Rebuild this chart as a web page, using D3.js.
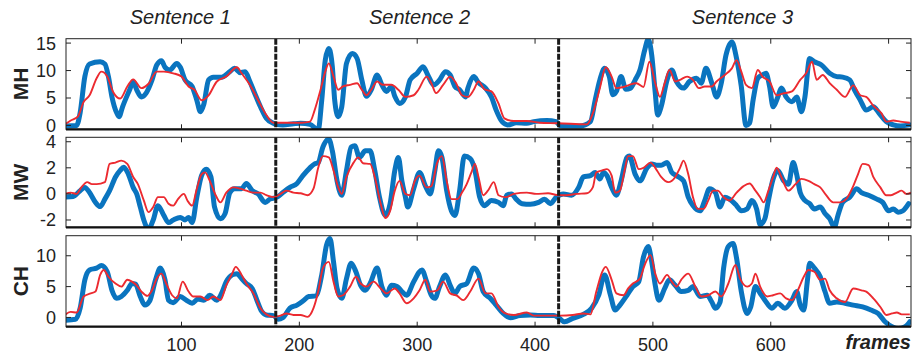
<!DOCTYPE html>
<html>
 <head>
  <meta charset="utf-8">
  <script src="https://d3js.org/d3.v7.min.js"></script>
  <style>
   body { margin: 0; background: #fff; }
   text { font-family: "Liberation Sans", Arial, sans-serif; fill: #222; }
  </style>
 </head>
 <body>
  <div id="chart"></div>
  <script type="text/javascript">
   // tick labels / categories
   var xTicks = [100, 200, 300, 400, 500, 600, 700];
   var sentenceNames = ["Sentence 1", "Sentence 2", "Sentence 3"];
   var sentenceCenters = [99, 302, 576];
   var boundaries = [180, 420];
   var panelNames = ["MH", "MW", "CH"];
   var mhTicks = [0, 5, 10, 15];
   var mwTicks = [-2, 0, 2, 4];
   var chTicks = [0, 5, 10];

   // MH: [frame, value]
   var mhBlue = [[1,-0.1],[11,0],[14,2.3],[18,8.9],[22,11.2],[31,11.6],[35,11.2],[38,8.9],[41,5.2],[45,2.3],[47,1.6],[50,3.4],[56,6.5],[59,8.0],[62,6.5],[66,5.2],[70,5.9],[75,8.3],[79,11],[83,11.8],[86,10.6],[90,10.1],[96,11.3],[99,10.6],[103,8.3],[109,7.1],[113,4.6],[116,2.5],[119,3.9],[123,8.3],[127,8.8],[134,8.8],[141,9.8],[145,10.4],[150,9.6],[154,9.8],[158,8.0],[162,5.9],[167,3.4],[172,1.3],[178,0.4],[180,0.2],[186,0.1],[195,0.3],[201,0.4],[209,0.2],[216,-0.8],[219,4.6],[222,11.9],[225,14],[228,10.7],[230,4.6],[233,1.6],[236,3.4],[240,11.3],[245,13.1],[249,12.2],[253,8.3],[257,5.3],[261,6.5],[266,9.2],[270,7.4],[274,6.2],[278,7.1],[281,5.3],[285,4.0],[290,5.2],[294,8.3],[300,9.5],[305,10.7],[309,9.2],[314,7.4],[319,8.3],[324,9.8],[328,9.2],[332,7.1],[336,6.5],[341,5.2],[343,6.8],[348,8.9],[352,7.8],[358,6.8],[363,5.2],[367,2.8],[372,0.7],[377,0.1],[384,0.5],[393,0.4],[399,0.7],[410,0.9],[418,0.7],[421,0],[427,-0.1],[438,-0.1],[447,0.7],[451,4.6],[455,8.3],[459,10.4],[463,8.9],[466,5.6],[469,6.2],[473,8.9],[477,6.6],[481,6.8],[485,8.3],[489,10.1],[493,13.7],[496,15.7],[499,12.8],[502,5.9],[504,1.9],[507,3.4],[512,8.3],[516,10.1],[520,8.0],[526,6.8],[531,8.0],[537,8.6],[541,7.7],[545,10.4],[550,7.7],[554,5.2],[558,7.7],[562,12.8],[567,15.2],[571,12.2],[575,7.1],[579,0.0],[582,0.4],[585,4.6],[589,8.6],[593,9.2],[596,9.5],[599,7.1],[602,3.4],[606,5.2],[609,6.8],[613,5.2],[618,4.3],[622,5.2],[626,2.5],[629,5.2],[633,12.2],[637,11.6],[643,11],[650,9.5],[656,8.9],[661,8.8],[667,8.3],[671,6.5],[676,4.6],[681,2.8],[687,3.4],[692,2.2],[698,0.7],[704,0.1],[710,-0.1],[718,0.1]];
   var mhRed = [[1,0.2],[6,0.9],[12,1.6],[17,4.3],[22,5.5],[28,8.6],[32,9.8],[37,8.9],[42,6.1],[48,4.9],[54,7.1],[59,8.4],[66,6.8],[72,7.6],[79,9.8],[85,9.8],[93,9.5],[100,8.9],[106,7.1],[111,6.5],[117,4.6],[123,5.5],[130,8.0],[138,8.9],[147,10.6],[151,9.5],[158,7.4],[165,4.6],[172,1.9],[178,0.5],[190,0.5],[202,0.5],[209,0.7],[213,2.8],[218,6.5],[222,9.8],[225,11.3],[229,8.9],[233,6.5],[237,7.1],[243,7.4],[249,7.7],[253,6.5],[257,5.5],[261,6.5],[266,8.0],[271,7.4],[278,7.4],[284,6.5],[290,5.2],[297,5.5],[301,6.5],[308,8.9],[312,7.7],[316,5.9],[322,7.4],[328,8.9],[333,7.7],[338,5.5],[343,5.2],[348,6.5],[352,8.0],[357,6.6],[363,6.2],[369,4.0],[374,1.3],[382,0.8],[393,0.8],[404,0.5],[418,0.4],[430,0.3],[444,0.2],[449,2.2],[455,6.8],[460,10.6],[465,8.9],[469,6.8],[475,7.0],[480,7.4],[486,7.7],[492,7.0],[497,11.6],[502,7.7],[506,5.2],[510,7.7],[514,10.1],[519,8.0],[523,8.3],[529,8.9],[534,8.3],[539,6.8],[544,7.1],[550,7.1],[554,8.0],[561,9.2],[567,10.4],[571,11.9],[575,9.8],[579,7.4],[584,6.8],[589,10.1],[593,8.9],[599,8.0],[605,5.5],[610,5.8],[618,6.2],[625,8.3],[630,9.5],[635,11.6],[639,8.3],[644,9.2],[650,7.7],[656,6.5],[663,5.2],[670,7.3],[676,5.5],[681,5.2],[687,3.6],[694,2.2],[698,0.7],[704,0.9],[710,0.7],[718,0.5]];

   // MW: [frame, value]
   var mwBlue = [[1,-0.25],[8,-0.2],[14,0.25],[18,0.5],[22,0.1],[27,-0.65],[31,-0.97],[35,-0.4],[39,0.25],[44,1.3],[48,1.8],[51,2.05],[55,1.5],[59,0.5],[62,0],[65,-1.0],[68,-2.0],[72,-2.7],[76,-2.0],[80,-0.9],[85,-1.65],[89,-2.2],[93,-2.0],[99,-1.8],[103,-2.0],[106,-1.8],[109,-2.2],[113,-0.25],[117,1.4],[121,1.9],[125,1.3],[128,-1.0],[133,-1.9],[137,-1.5],[141,0.1],[145,0.4],[151,0.4],[155,0.8],[160,0.25],[165,0],[171,-0.65],[175,-0.4],[181,-0.25],[186,0.1],[192,0.5],[198,0.8],[203,1.4],[209,2.0],[213,2.3],[216,2.4],[220,3.6],[225,4.2],[228,3.3],[232,1.0],[236,-0.1],[240,1.8],[244,3.6],[247,3.7],[251,2.8],[256,3.3],[260,3.3],[264,1.8],[268,-0.25],[273,-1.65],[277,-0.75],[281,1.8],[284,2.8],[287,1.0],[290,-0.25],[292,-1.0],[297,0.4],[302,1.65],[307,0.6],[311,0],[315,1.8],[318,3.3],[321,2.8],[325,0.25],[329,-1.3],[332,-1.65],[336,0.25],[340,2.9],[345,2.7],[349,1.8],[353,-0.25],[357,-0.9],[363,-0.5],[369,-0.65],[373,-0.9],[376,-0.1],[380,0],[384,-0.4],[389,-0.75],[396,-0.8],[403,-0.65],[408,-0.4],[413,-0.75],[418,-0.25],[424,0],[431,-0.1],[437,0.5],[441,1.3],[447,1.4],[451,1.65],[455,1.15],[458,1.65],[461,1.4],[465,0.5],[469,-0.1],[473,1.0],[478,2.8],[480,2.9],[485,1.5],[489,1.0],[495,2.0],[499,2.3],[503,2.2],[507,2.2],[512,2.4],[516,1.65],[520,1.4],[526,1.0],[530,-0.25],[534,-0.9],[540,-1.3],[544,-0.5],[548,0.4],[553,0.1],[557,-1.0],[561,-0.25],[565,-0.4],[571,-0.9],[575,-1.3],[580,-1.15],[584,-0.5],[588,-1.15],[591,-2.35],[595,-1.9],[598,-0.5],[602,1.15],[606,1.8],[611,1.0],[615,0.75],[619,2.4],[622,1.5],[625,0.1],[629,-0.5],[633,-0.75],[637,-1.15],[642,-1.0],[646,-1.5],[650,-1.9],[654,-2.55],[657,-1.65],[661,-0.65],[667,-0.25],[673,0.4],[677,0.1],[683,-0.1],[690,-0.4],[695,-0.65],[700,-1.3],[704,-1.15],[708,-1.4],[712,-1.3],[717,-0.75]];
   var mwRed = [[1,0],[6,0.1],[11,0],[15,0.5],[20,0.9],[24,0.75],[28,0.75],[35,0.9],[39,2.3],[44,2.4],[49,2.55],[54,2.3],[59,1.3],[63,0.75],[68,-0.5],[72,-1.4],[76,-1.0],[80,-0.25],[85,-0.25],[89,-0.75],[93,-0.9],[97,-0.4],[102,0],[105,-0.5],[109,-0.9],[113,0.4],[117,1.5],[120,1.65],[124,1.0],[129,-0.1],[133,-0.65],[138,0.1],[144,0.5],[150,0.4],[155,0.25],[161,0.1],[167,0.1],[172,-0.1],[178,-0.25],[184,0],[189,0.25],[195,0.1],[201,0.05],[207,-0.1],[212,0.4],[216,2.0],[220,2.9],[225,2.8],[229,1.8],[233,0.5],[236,0],[240,1.3],[246,2.4],[250,2.8],[254,2.35],[260,2.3],[264,1.3],[269,-0.75],[273,-1.85],[277,-1.3],[281,0.25],[285,1.0],[290,0],[294,-0.1],[298,1.0],[302,1.4],[308,0.5],[312,0.6],[317,2.4],[321,2.9],[325,1.0],[329,-0.4],[334,-0.4],[338,0.1],[342,0.75],[346,1.65],[349,2.3],[352,1.3],[356,-0.1],[360,0.25],[365,0.9],[369,-0.1],[375,-0.25],[382,0],[393,0.1],[401,0],[411,0.05],[420,-0.1],[427,-0.1],[435,0],[444,0.05],[449,0.5],[452,1.65],[457,1.8],[461,1.9],[465,1.4],[468,0.1],[472,0.25],[476,1.8],[479,2.9],[483,2.9],[488,1.9],[492,2.0],[498,2.4],[502,2.0],[507,1.3],[513,0.9],[519,1.3],[523,2.0],[526,2.55],[530,1.5],[534,-0.25],[538,-1.15],[543,-1.15],[547,-0.5],[551,0.25],[555,0.25],[560,-0.25],[565,-0.5],[571,0.1],[577,0.6],[582,0.8],[587,0.25],[591,-0.25],[594,-0.65],[598,0.25],[602,1.3],[605,2.0],[609,1.3],[615,0.25],[621,0.75],[626,1.15],[632,1.0],[637,0.75],[642,0.5],[647,-0.1],[653,-0.65],[659,-0.65],[664,-0.4],[670,0.6],[674,1.5],[678,2.3],[683,2.2],[687,1.3],[693,0.5],[698,-0.1],[702,-0.1],[707,0.1],[711,0.25],[715,0],[719,0.1]];

   // CH: [frame, value]
   var chBlue = [[1,-0.45],[10,-0.3],[14,1.5],[18,6.1],[22,7.7],[28,8.0],[32,8.4],[37,7.4],[41,4.4],[45,3.1],[49,3.4],[54,4.4],[58,5.5],[61,5.4],[65,3.4],[69,2.0],[73,2.65],[78,6.1],[82,8.0],[86,6.1],[89,2.8],[93,2.4],[99,3.4],[104,2.8],[109,2.3],[114,3.0],[119,2.8],[124,3.6],[130,2.8],[134,3.9],[138,5.8],[143,6.9],[147,7.1],[151,6.3],[155,5.5],[160,4.7],[164,2.8],[168,1.0],[172,0.4],[178,0.3],[182,-0.3],[186,-0.05],[192,1.5],[198,2.0],[203,2.65],[208,3.4],[214,3.5],[219,6.9],[223,11.7],[226,12.8],[229,9.0],[232,4.7],[236,3.1],[240,6.3],[244,8.8],[248,7.4],[252,5.2],[256,4.4],[260,5.5],[266,8.0],[270,5.0],[274,3.6],[278,5.2],[283,5.0],[287,4.2],[291,3.6],[297,5.8],[304,7.7],[308,5.8],[312,3.6],[315,3.1],[319,5.0],[324,6.9],[328,5.2],[332,3.9],[336,5.0],[342,5.5],[348,8.0],[352,7.1],[356,4.2],[362,3.1],[367,2.0],[373,0.65],[379,-0.05],[387,0.3],[396,0.4],[404,0.3],[416,0.3],[420,-0.05],[425,-0.7],[432,-0.15],[441,0.5],[448,1.5],[454,3.6],[459,6.9],[464,3.6],[468,1.2],[472,2.0],[478,3.6],[483,5.0],[488,5.8],[492,9.8],[496,11.5],[499,9.0],[502,5.2],[505,2.8],[510,4.7],[514,6.1],[519,5.2],[524,4.2],[530,4.4],[534,5.0],[540,3.4],[546,3.6],[550,2.5],[553,1.5],[557,2.5],[560,8.0],[564,11.5],[568,12.0],[571,9.6],[575,4.2],[580,0.65],[583,1.7],[587,5.0],[591,3.9],[595,2.8],[601,1.5],[606,2.3],[612,1.5],[618,2.8],[622,4.2],[625,2.0],[628,1.2],[631,5.8],[633,8.8],[637,8.0],[642,6.6],[646,4.2],[650,2.3],[656,2.5],[663,2.3],[670,2.0],[678,1.7],[685,1.2],[691,0.65],[697,-0.7],[703,-1.5],[708,-1.8],[714,-1.5],[718,-0.7]];
   var chRed = [[1,0.4],[6,0.9],[11,0.8],[17,3.4],[23,3.9],[27,4.2],[31,6.9],[34,7.7],[38,6.6],[44,5.5],[49,5.0],[54,6.1],[58,5.8],[62,5.2],[66,4.2],[71,3.5],[75,4.4],[79,6.3],[83,7.1],[87,5.5],[92,3.6],[96,3.1],[101,5.8],[106,4.2],[110,3.4],[116,3.4],[122,2.8],[127,3.4],[133,2.8],[138,5.2],[143,7.1],[146,8.2],[151,6.9],[155,5.5],[161,3.9],[167,1.5],[172,0.5],[178,0.1],[184,0.3],[189,0.65],[195,0.4],[201,0.4],[207,0.1],[212,1.5],[216,4.2],[220,8.0],[225,9.0],[229,5.8],[233,3.4],[237,3.6],[243,5.0],[248,6.6],[252,5.5],[257,5.0],[263,5.8],[269,4.7],[274,3.9],[281,4.7],[285,3.9],[291,2.3],[297,3.1],[302,4.4],[307,6.1],[311,4.2],[317,4.4],[322,5.8],[328,3.9],[334,3.5],[339,2.8],[345,4.2],[352,6.3],[358,3.9],[363,3.9],[369,1.7],[375,0.65],[382,0.4],[393,0.8],[399,0.3],[410,0.3],[421,0.3],[432,0.4],[441,0.65],[447,0.5],[452,4.2],[457,7.4],[460,8.2],[465,6.1],[469,3.9],[475,3.6],[479,4.7],[483,5.5],[489,6.3],[493,8.5],[498,10.1],[502,7.1],[506,5.5],[512,6.9],[516,5.8],[520,5.0],[524,6.1],[530,7.1],[536,5.0],[541,3.4],[547,3.6],[553,4.2],[558,3.4],[564,5.5],[570,8.5],[574,6.3],[580,5.0],[584,5.5],[587,7.1],[591,5.0],[597,3.4],[602,3.6],[608,3.9],[613,3.1],[618,2.8],[623,4.4],[628,6.6],[632,7.7],[637,7.4],[642,6.1],[646,6.3],[650,4.4],[656,3.1],[663,2.5],[670,4.7],[677,4.4],[681,4.2],[687,3.1],[693,1.7],[698,0.4],[703,0.65],[707,0.8],[711,0.5],[718,0.5]];

   var W = 912, H = 356;
   var blue = "#0a74bf", red = "#ec2a30";

   var svg = d3.select("#chart").append("svg")
      .attr("width", W).attr("height", H);

   var x = d3.scaleLinear().domain([2, 719]).range([66, 911]);

   var panels = [
     {name: panelNames[0], top: 38.7, bottom: 129.3, domain: [-0.7, 15.8], ticks: mhTicks, blue: mhBlue, red: mhRed},
     {name: panelNames[1], top: 137.3, bottom: 227.3, domain: [-2.56, 4.34], ticks: mwTicks, blue: mwBlue, red: mwRed},
     {name: panelNames[2], top: 235.7, bottom: 326.7, domain: [-1.5, 13.25], ticks: chTicks, blue: chBlue, red: chRed}
   ];

   var x0 = x.range()[0], x1 = x.range()[1];

   panels.forEach(function (p, i) {
     var y = d3.scaleLinear().domain(p.domain).range([p.bottom, p.top]);
     var g = svg.append("g");

     g.append("clipPath").attr("id", "clip" + i)
       .append("rect").attr("x", x0).attr("y", p.top)
       .attr("width", x1 - x0).attr("height", p.bottom - p.top);

     var line = d3.line()
       .x(function (d) { return x(d[0]); })
       .y(function (d) { return y(d[1]); })
       .curve(d3.curveMonotoneX);

     var plot = g.append("g").attr("clip-path", "url(#clip" + i + ")");
     plot.append("path").datum(p.blue)
       .attr("d", line).attr("fill", "none")
       .attr("stroke", blue).attr("stroke-width", 5)
       .attr("stroke-linejoin", "round").attr("stroke-linecap", "round");
     plot.append("path").datum(p.red)
       .attr("d", line).attr("fill", "none")
       .attr("stroke", red).attr("stroke-width", 1.9)
       .attr("stroke-linejoin", "round");

     // sentence boundaries
     g.selectAll("line.sep").data(boundaries).enter().append("line")
       .attr("x1", function (d) { return x(d); }).attr("x2", function (d) { return x(d); })
       .attr("y1", p.top).attr("y2", p.bottom)
       .attr("stroke", "#1a1a1a").attr("stroke-width", 3)
       .attr("stroke-dasharray", "6,1.5");

     // frame
     g.append("rect").attr("x", x0).attr("y", p.top)
       .attr("width", x1 - x0).attr("height", p.bottom - p.top)
       .attr("fill", "none").attr("stroke", "#222").attr("stroke-width", 1);
     g.append("line").attr("x1", x0).attr("x2", x1)
       .attr("y1", p.bottom).attr("y2", p.bottom)
       .attr("stroke", "#111").attr("stroke-width", 2.2);

     // x ticks, inward top and bottom
     xTicks.forEach(function (t) {
       g.append("line").attr("x1", x(t)).attr("x2", x(t))
         .attr("y1", p.top).attr("y2", p.top + 5).attr("stroke", "#222");
       g.append("line").attr("x1", x(t)).attr("x2", x(t))
         .attr("y1", p.bottom).attr("y2", p.bottom - 5).attr("stroke", "#222");
     });

     // y ticks, inward left and right
     p.ticks.forEach(function (t) {
       g.append("line").attr("x1", x0).attr("x2", x0 + 5)
         .attr("y1", y(t)).attr("y2", y(t)).attr("stroke", "#222");
       g.append("line").attr("x1", x1 - 5).attr("x2", x1)
         .attr("y1", y(t)).attr("y2", y(t)).attr("stroke", "#222");
       g.append("text").attr("x", x0 - 10).attr("y", y(t))
         .attr("dy", "0.36em").attr("text-anchor", "end")
         .style("font-size", "18px").text(t);
     });

     // panel name
     var cy = (p.top + p.bottom) / 2;
     g.append("text")
       .attr("transform", "translate(28," + cy + ") rotate(-90)")
       .attr("text-anchor", "middle")
       .style("font-size", "21px").style("font-weight", "bold")
       .text(p.name);
   });

   // x tick labels under bottom panel
   svg.selectAll("text.xl").data(xTicks.slice(0, 6)).enter().append("text")
     .attr("x", function (d) { return x(d); }).attr("y", 351)
     .attr("text-anchor", "middle").style("font-size", "18px")
     .text(function (d) { return d; });

   svg.append("text").attr("x", 911).attr("y", 349)
     .attr("text-anchor", "end")
     .style("font-size", "20px").style("font-weight", "bold").style("font-style", "italic")
     .text("frames");

   // sentence titles
   svg.selectAll("text.st").data(sentenceNames).enter().append("text")
     .attr("x", function (d, i) { return x(sentenceCenters[i]); }).attr("y", 24)
     .attr("text-anchor", "middle")
     .style("font-size", "20px").style("font-style", "italic")
     .text(function (d) { return d; });
  </script>
 </body>
</html>
